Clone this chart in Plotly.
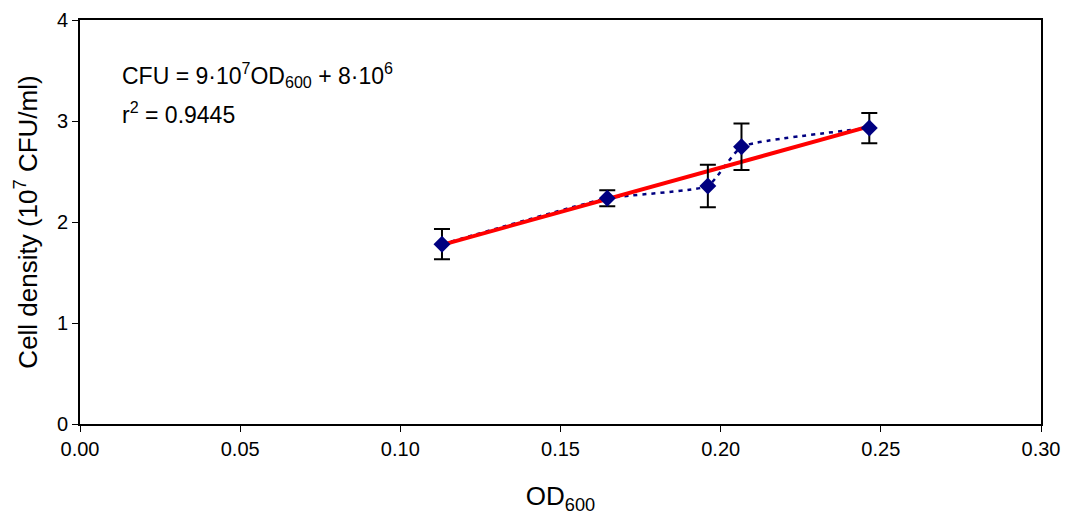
import numpy as np
import plotly.graph_objects as go

od600 = [0.113, 0.1646, 0.196, 0.2065, 0.2464]
cell_density = [1.78, 2.235, 2.356, 2.745, 2.93]
err = [0.15, 0.08, 0.21, 0.23, 0.15]
x_ticks = [0.00, 0.05, 0.10, 0.15, 0.20, 0.25, 0.30]
y_ticks = [0, 1, 2, 3, 4]

slope, intercept = np.polyfit(od600, cell_density, 1)
fit_x = [min(od600), max(od600)]
fit_y = [slope * v + intercept for v in fit_x]

FONT = "Liberation Sans, Arial, sans-serif"

fig = go.Figure()
fig.add_trace(go.Scatter(
    x=od600, y=cell_density, mode="lines",
    line=dict(color="#000080", width=2.5, dash="4px,5px", shape="spline", smoothing=0.4),
    showlegend=False, hoverinfo="skip"))
fig.add_trace(go.Scatter(
    x=fit_x, y=fit_y, mode="lines",
    line=dict(color="#ff0000", width=4),
    showlegend=False))
fig.add_trace(go.Scatter(
    x=od600, y=cell_density, mode="markers",
    marker=dict(symbol="diamond", size=13, color="#000080"),
    error_y=dict(type="data", array=err, visible=True, color="black", thickness=2, width=8),
    showlegend=False))

fig.add_annotation(x=0.0, y=3.455, xref="x", yref="y", xanchor="left", yanchor="middle",
                   xshift=40, showarrow=False,
                   text="CFU = 9·10<sup>7</sup>OD<sub>600</sub> + 8·10<sup>6</sup>",
                   font=dict(family=FONT, size=23, color="black"))
fig.add_annotation(x=0.0, y=3.08, xref="x", yref="y", xanchor="left", yanchor="middle",
                   xshift=40, showarrow=False,
                   text="r<sup>2</sup> = 0.9445",
                   font=dict(family=FONT, size=23, color="black"))

fig.update_layout(
    width=1061, height=515,
    margin=dict(l=72, r=28, t=12, b=99, autoexpand=False),
    plot_bgcolor="white", paper_bgcolor="white",
    font=dict(family=FONT, size=20, color="black"),
    xaxis=dict(range=[0, 0.30], tickvals=x_ticks, ticktext=[f"{v:.2f}" for v in x_ticks],
               showgrid=False, zeroline=False, showline=True, linecolor="black", linewidth=2,
               mirror=True, ticks="outside", ticklen=6, tickcolor="black",
               title=dict(text="OD<sub>600</sub>", font=dict(size=26), standoff=28)),
    yaxis=dict(range=[0, 4], tickvals=y_ticks,
               showgrid=False, zeroline=False, showline=True, linecolor="black", linewidth=2,
               mirror=True, ticks="outside", ticklen=6, tickcolor="black",
               title=dict(text="Cell density (10<sup>7</sup> CFU/ml)", font=dict(size=26), standoff=12)),
)

fig.write_html("out.html")
